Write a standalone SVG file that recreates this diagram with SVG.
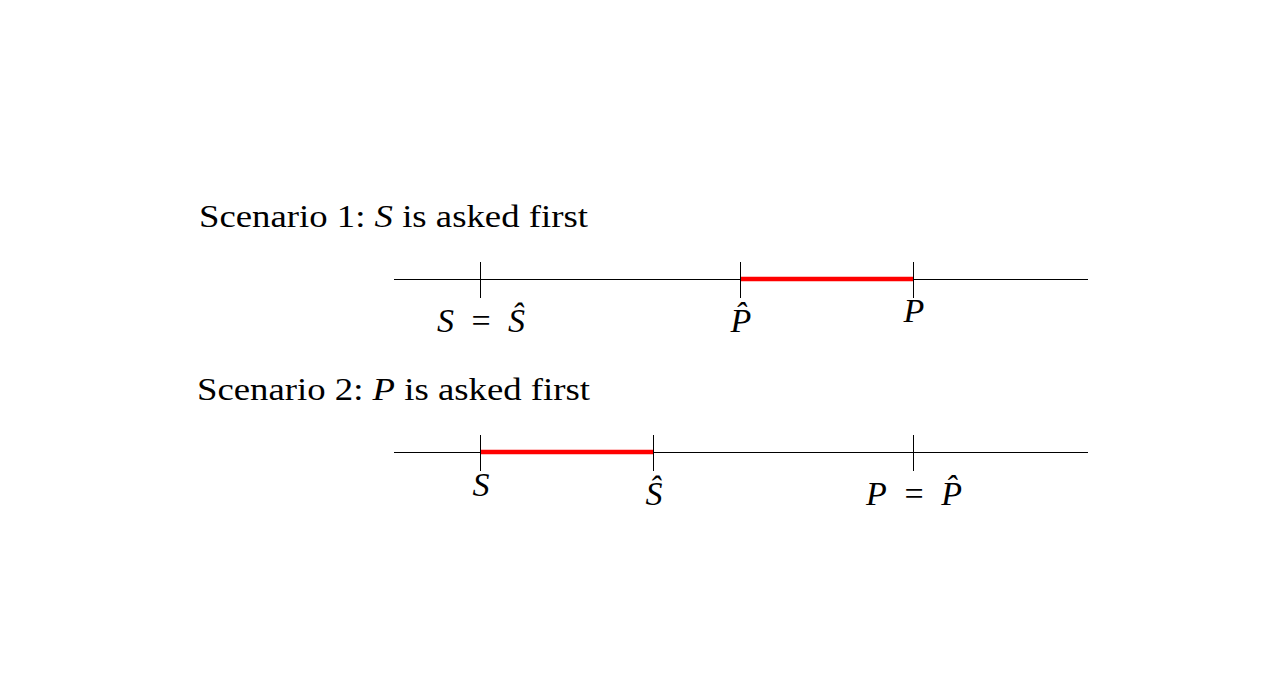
<svg xmlns="http://www.w3.org/2000/svg" width="1279" height="674" viewBox="0 0 1279 674">
<style>
.t{font-family:'Liberation Serif','Times New Roman',Times,serif;font-size:31px;fill:#000}
.l{font-size:34px}
.m{font-style:italic}
.ax{stroke:#000;stroke-width:1;fill:none}
.tk{stroke:#000;stroke-width:1}
.hl{stroke:#ff0000;stroke-width:4.5}
</style>
<rect width="1279" height="674" fill="#fff"/>
<g id="title1"><text class="t" x="199" y="227" textLength="389" lengthAdjust="spacingAndGlyphs">Scenario 1: <tspan class="m">S</tspan> is asked first</text></g>
<g id="title2"><text class="t" x="197" y="400" textLength="393" lengthAdjust="spacingAndGlyphs">Scenario 2: <tspan class="m">P</tspan> is asked first</text></g>
<g id="connectors">
<line class="ax" x1="394" y1="279.5" x2="1088" y2="279.5"/>
<line class="hl" x1="740.5" y1="279" x2="913.5" y2="279"/>
<line class="tk" x1="480.5" y1="262" x2="480.5" y2="298"/>
<line class="tk" x1="740.5" y1="262" x2="740.5" y2="298"/>
<line class="tk" x1="913.5" y1="262" x2="913.5" y2="298"/>
<line class="ax" x1="394" y1="452.5" x2="1088" y2="452.5"/>
<line class="hl" x1="480.5" y1="452" x2="653.5" y2="452"/>
<line class="tk" x1="480.5" y1="435" x2="480.5" y2="471"/>
<line class="tk" x1="653.5" y1="435" x2="653.5" y2="471"/>
<line class="tk" x1="913.5" y1="435" x2="913.5" y2="471"/>
</g>
<g id="s1-S"><text class="t l" x="437" y="332" textLength="88" lengthAdjust="spacing"><tspan class="m">S</tspan> = <tspan class="m">Ŝ</tspan></text></g>
<g id="s1-Phat"><text class="t l m" x="741" y="332" text-anchor="middle">P̂</text></g>
<g id="s1-P"><text class="t l m" x="914" y="322" text-anchor="middle">P</text></g>
<g id="s2-S"><text class="t l m" x="481" y="496" text-anchor="middle">S</text></g>
<g id="s2-Shat"><text class="t l m" x="654" y="505" text-anchor="middle">Ŝ</text></g>
<g id="s2-P"><text class="t l" x="866" y="505" textLength="96" lengthAdjust="spacing"><tspan class="m">P</tspan> = <tspan class="m">P̂</tspan></text></g>
</svg>
